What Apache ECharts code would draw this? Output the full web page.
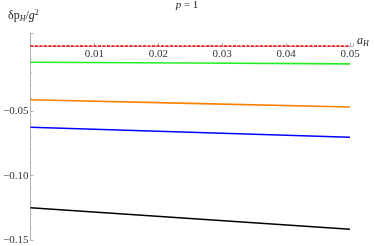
<!DOCTYPE html>
<html><head><meta charset="utf-8">
<script src="https://cdn.jsdelivr.net/npm/echarts@6/dist/echarts.min.js"></script>
<style>html,body{margin:0;padding:0;background:#fff}#c{width:374px;height:246px}</style>
</head><body><div id="c"></div>
<script>
const xValues = [0, 0.025, 0.05];
const redDashed = [0, 0, 0];
const green = [-0.0125, -0.0131, -0.0138];
const orange = [-0.0415, -0.0443, -0.0471];
const blue = [-0.0627, -0.0665, -0.0704];
const black = [-0.1247, -0.1330, -0.1413];
const xTicks = [0.01, 0.02, 0.03, 0.04, 0.05];
const yTicks = [-0.05, -0.10, -0.15];

const font = '"Liberation Serif","DejaVu Serif",serif';
function mk(vals, color, dashed) {
  return {
    type: 'line', data: xValues.map((x, i) => [x, vals[i]]), showSymbol: false,
    lineStyle: { color: color, width: dashed ? 1.5 : 1.6, type: dashed ? [3, 1.5] : 'solid' },
    z: dashed ? 5 : 3, animation: false
  };
}
const chart = echarts.init(document.getElementById('c'));
chart.setOption({
  animation: false,
  grid: { left: 28, right: 20.8, top: 33, bottom: 5.1 },
  xAxis: {
    type: 'value', min: 0, max: 0.0505, interval: 0.01,
    position: 'top', offset: -13,
    axisLine: { onZero: false, lineStyle: { color: '#b3b3b3', width: 1 } },
    axisTick: { inside: false, length: 3, lineStyle: { color: '#b3b3b3' } },
    minorTick: { show: true, splitNumber: 5, length: 1.5, lineStyle: { color: '#c8c8c8' } },
    splitLine: { show: false },
    axisLabel: {
      inside: true, showMaxLabel: false, margin: 3, color: '#333', fontFamily: font, fontSize: 11,
      formatter: v => xTicks.some(t => Math.abs(t - v) < 1e-9) ? v.toFixed(2) : ''
    }
  },
  yAxis: {
    type: 'value', min: -0.15, max: 0.01, interval: 0.05,
    axisLine: { onZero: false, lineStyle: { color: '#b3b3b3', width: 1 } },
    axisTick: { inside: true, length: 3, lineStyle: { color: '#b3b3b3' } },
    minorTick: { show: true, splitNumber: 5, length: 1.5, lineStyle: { color: '#c8c8c8' } },
    splitLine: { show: false },
    axisLabel: {
      margin: 2, color: '#333', fontFamily: font, fontSize: 11,
      formatter: v => yTicks.some(t => Math.abs(t - v) < 1e-9) ? '\u2212' + Math.abs(v).toFixed(2) : ''
    }
  },
  graphic: [
    { type: 'text', left: 'center', top: 0, style: {
      text: '{i|p} = 1', fontFamily: font, fontSize: 11, fill: '#222',
      rich: { i: { fontStyle: 'italic', fontFamily: font, fontSize: 11 } } } },
    { type: 'text', left: 8, top: 9, style: {
      text: '\u03b4p{s|H}/{i|g}{sp|2}', fontFamily: font, fontSize: 12, fill: '#222',
      rich: {
        s: { fontStyle: 'italic', fontFamily: font, fontSize: 8, padding: [6, 0, 0, 0] },
        i: { fontStyle: 'italic', fontFamily: font, fontSize: 12 },
        sp: { fontFamily: font, fontSize: 8, padding: [0, 0, 6, 0] }
      } } },
    { type: 'text', left: 357, top: 35, style: {
      text: '{i|a}{s|H}', fontFamily: font, fontSize: 12, fill: '#222',
      rich: {
        i: { fontStyle: 'italic', fontFamily: font, fontSize: 12 },
        s: { fontStyle: 'italic', fontFamily: font, fontSize: 8, padding: [6, 0, 0, 0] }
      } } }
  ],
  series: [
    mk(green, '#22ee22', false),
    mk(orange, '#ff8000', false),
    mk(blue, '#0000ff', false),
    mk(black, '#000000', false),
    mk(redDashed, '#ff0000', true)
  ]
});
</script></body></html>
